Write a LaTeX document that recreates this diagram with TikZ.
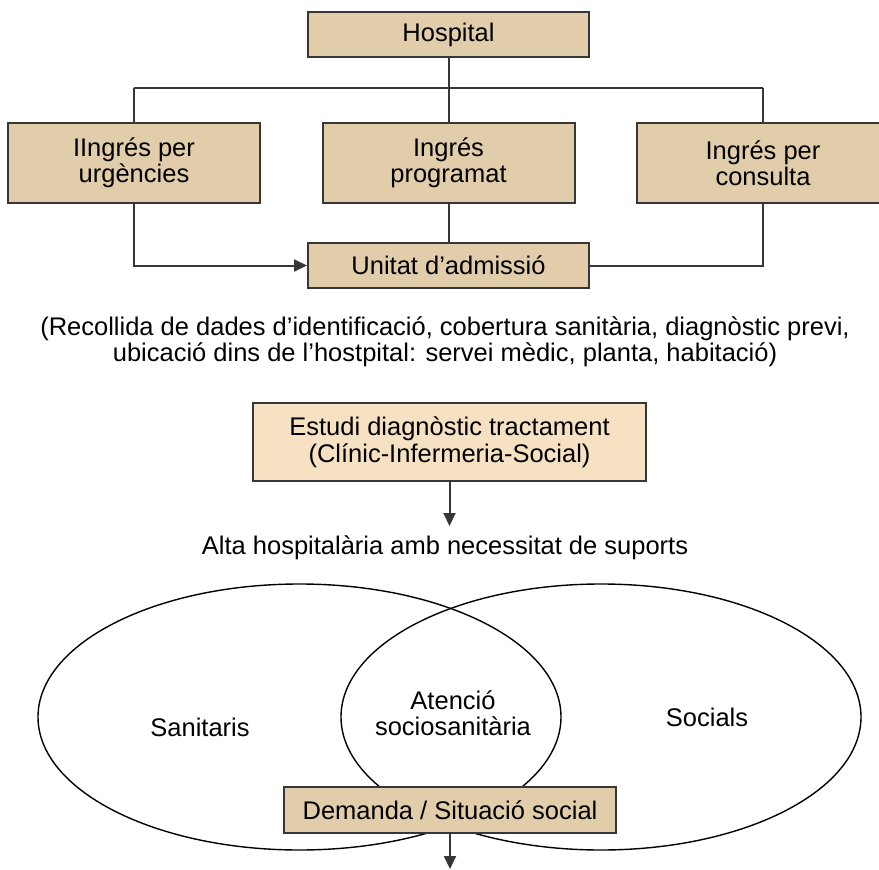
\documentclass[tikz,border=0pt]{standalone}
\usepackage{fontspec}
\setmainfont{Liberation Sans}
\usetikzlibrary{arrows.meta}
\definecolor{boxfill}{RGB}{225,205,170}
\definecolor{lightfill}{RGB}{246,226,194}
\definecolor{linegray}{RGB}{55,55,55}
\begin{document}
\begin{tikzpicture}[x=1pt,y=-1pt,
  txt/.style={font=\fontsize{25.5}{26.5}\selectfont, align=center, inner sep=0pt},
  tanbox/.style={txt, draw=linegray, line width=2pt, fill=boxfill},
  conn/.style={draw=linegray, line width=2pt},
  arr/.style={conn, -{Triangle[length=13pt,width=12pt]}},
  venn/.style={draw=black, line width=1.4pt}]
\useasboundingbox (0,0) rectangle (879,870);
% top part
\node[tanbox, minimum width=281pt, minimum height=45pt] (hosp) at (448.5,34.5) {Hospital};
\node[tanbox, minimum width=252pt, minimum height=80pt] (urg) at (134,163) {IIngrés per\\urgències};
\node[tanbox, minimum width=252pt, minimum height=80pt] (prog) at (448.5,163) {Ingrés\\programat};
\node[tanbox, minimum width=252pt, minimum height=80pt] (cons) at (763,163) {Ingrés per\\consulta};
\node[tanbox, minimum width=281pt, minimum height=45pt] (unit) at (448.5,265.5) {Unitat d’admissió};
\coordinate (barL) at (134,88);
\coordinate (barR) at (763,88);
\path[conn] (barL) -- (barR);
\path[conn] (hosp.south) -- (prog.north);
\path[conn] (barL) -- (urg.north);
\path[conn] (barR) -- (cons.north);
\path[arr] (urg.south) |- (unit.west);
\path[conn] (cons.south) |- (unit.east);
\path[conn] (prog.south) -- (unit.north);
% middle text
\node[txt] (recoll) at (445,342) {(Recollida de dades d’identificació, cobertura sanitària, diagnòstic previ,\\ubicació dins de l’hostpital: servei mèdic, planta, habitació)};
\node[tanbox, fill=lightfill, minimum width=393pt, minimum height=78pt] (estudi) at (449.5,442) {Estudi diagnòstic tractament\\(Clínic-Infermeria-Social)};
\coordinate (altaTop) at (449.5,526);
\path[arr] (estudi.south) -- (altaTop);
\node[txt] (alta) at (445,548) {Alta hospitalària amb necessitat de suports};
% Venn
\draw[venn] (299.5,717) ellipse [x radius=261.5pt, y radius=133pt];
\draw[venn] (601,717) ellipse [x radius=260pt, y radius=133pt];
\node[txt] (san) at (200,727) {Sanitaris};
\node[txt] (aten) at (453,713) {Atenció\\sociosanitària};
\node[txt] (soc) at (707,717) {Socials};
\node[tanbox, minimum width=332pt, minimum height=46pt] (dem) at (450,810) {Demanda / Situació social};
\coordinate (endB) at (450,869);
\path[arr] (dem.south) -- (endB);
\end{tikzpicture}
\end{document}
